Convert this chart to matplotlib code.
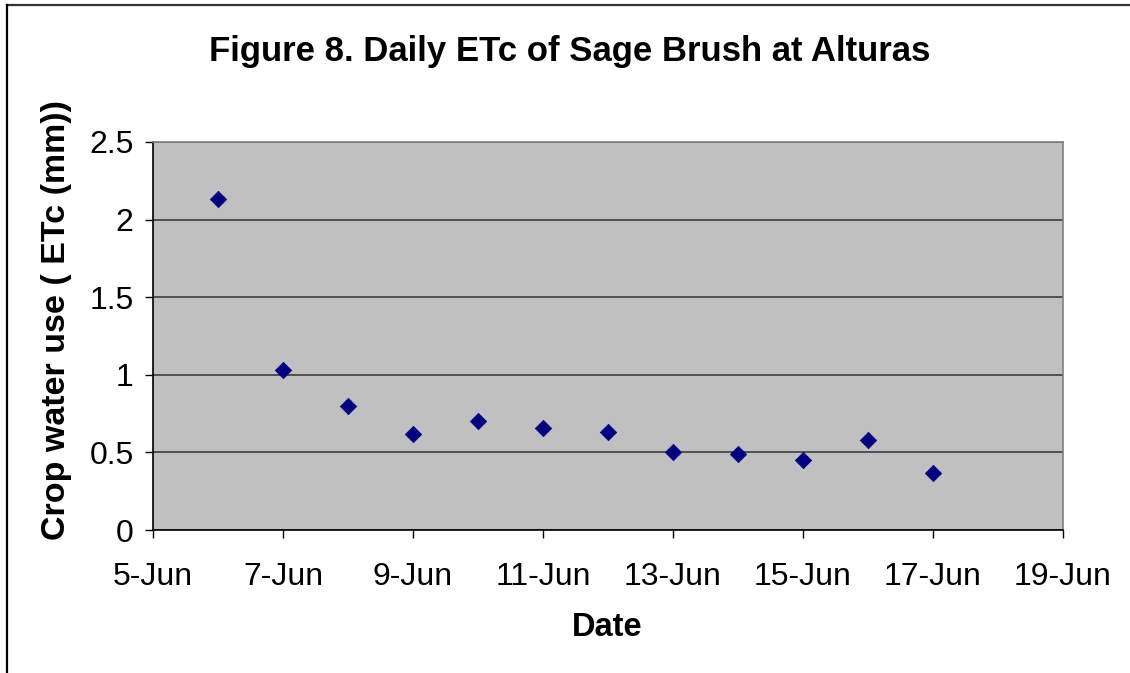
import datetime as dt
import matplotlib
matplotlib.use("Agg")
import matplotlib.pyplot as plt
import matplotlib.dates as mdates
from matplotlib.lines import Line2D

plt.rcParams['font.family'] = ['Liberation Sans', 'DejaVu Sans']

# Daily crop water use of sage brush (June)
days = [6, 7, 8, 9, 10, 11, 12, 13, 14, 15, 16, 17]
etc_mm = [2.13, 1.03, 0.80, 0.62, 0.70, 0.66, 0.63, 0.50, 0.49, 0.45, 0.58, 0.37]
tick_days = [5, 7, 9, 11, 13, 15, 17, 19]
y_ticks = [0, 0.5, 1, 1.5, 2, 2.5]
y_tick_labels = ['0', '0.5', '1', '1.5', '2', '2.5']

year = 2005
dates = [dt.date(year, 6, d) for d in days]
tick_dates = [dt.date(year, 6, d) for d in tick_days]

W, H = 1130, 673
fig = plt.figure(figsize=(W / 100, H / 100), dpi=100)
ax = fig.add_axes([153 / W, 1 - 530 / H, 910 / W, 388 / H])
ax.set_facecolor('#c0c0c0')

ax.scatter(dates, etc_mm, marker='D', s=70, color='#000080', edgecolors='#000080',
           linewidths=0.5, zorder=3)

ax.set_xlim(dt.date(year, 6, 5), dt.date(year, 6, 19))
ax.set_ylim(0, 2.5)
ax.set_xticks(tick_dates)
ax.xaxis.set_major_formatter(mdates.DateFormatter('%-d-%b'))
ax.set_yticks(y_ticks)
ax.set_yticklabels(y_tick_labels)

ax.grid(axis='y', color='#3c3c3c', linewidth=1.2, zorder=1)
ax.set_axisbelow(True)

for side in ('left', 'bottom'):
    ax.spines[side].set_color('black')
    ax.spines[side].set_linewidth(1.2)
for side in ('top', 'right'):
    ax.spines[side].set_color('#808080')
    ax.spines[side].set_linewidth(1.2)

ax.tick_params(axis='both', direction='out', length=6, width=1, color='black',
               labelsize=23, labelcolor='black')
ax.tick_params(axis='x', pad=17)
ax.tick_params(axis='y', pad=8)

# Axis titles and chart title
fig.text(607 / W, 1 - 628 / H, 'Date', ha='center', va='center',
         fontsize=23.5, fontweight='bold')
fig.text(57 / W, 1 - 320 / H, 'Crop water use ( ETc (mm))', ha='center', va='center',
         rotation=90, fontsize=24.5, fontweight='bold')
fig.text(570 / W, 1 - 52 / H, 'Figure 8. Daily ETc of Sage Brush at Alturas',
         ha='center', va='center', fontsize=25, fontweight='bold')

# Outer frame (top and left edges)
fig.add_artist(Line2D([7 / W, 1], [1 - 5 / H, 1 - 5 / H],
                      transform=fig.transFigure, color='#333333', linewidth=1.6))
fig.add_artist(Line2D([7 / W, 7 / W], [0, 1 - 5 / H],
                      transform=fig.transFigure, color='black', linewidth=1.6))

fig.savefig('out.png', dpi=100, facecolor='white')
